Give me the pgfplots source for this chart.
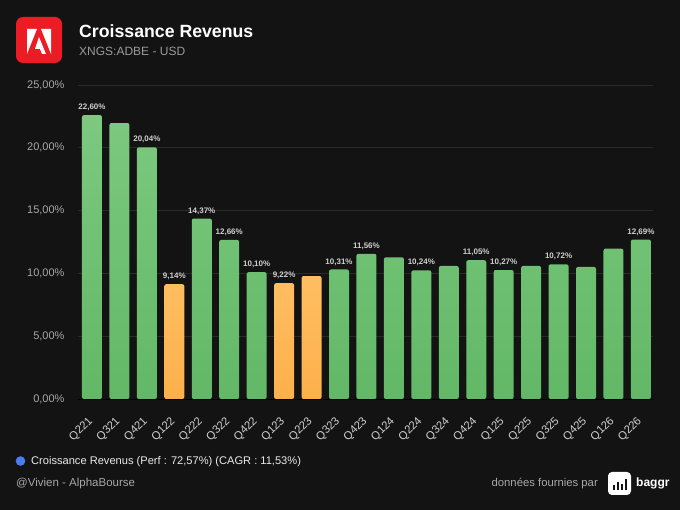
\documentclass[border=0pt]{standalone}
\usepackage{pgfplots}
\pgfplotsset{compat=1.18}
\usepackage{pgfplotstable}
\usepackage{fontspec}
\setmainfont{Liberation Sans}
\definecolor{bg}{HTML}{131313}
\definecolor{gridc}{HTML}{2A2A2A}
\definecolor{greentop}{HTML}{7CC97F}
\definecolor{greenbot}{HTML}{62B866}
\definecolor{orangetop}{HTML}{FFBE62}
\definecolor{orangebot}{HTML}{FDB04A}
\definecolor{ticktext}{HTML}{A8A8A8}
\definecolor{xtext}{HTML}{CFCFCF}
\definecolor{subt}{HTML}{9A9A9A}
\definecolor{adobered}{HTML}{EB1C24}
\definecolor{bluedot}{HTML}{4A7CF0}

\pgfplotstableread{
x y
0 22.60
1 21.97
2 20.04
4 14.37
5 12.66
6 10.10
9 10.31
10 11.56
11 11.28
12 10.24
13 10.59
14 11.05
15 10.27
16 10.59
17 10.72
18 10.51
19 11.97
20 12.69
}\greendata
\pgfplotstableread{
x y
3 9.14
7 9.22
8 9.79
}\orangedata
\pgfplotstableread{
x y lab
0 22.60 {22,60\%}
2 20.04 {20,04\%}
3 9.14 {9,14\%}
4 14.37 {14,37\%}
5 12.66 {12,66\%}
6 10.10 {10,10\%}
7 9.22 {9,22\%}
9 10.31 {10,31\%}
10 11.56 {11,56\%}
12 10.24 {10,24\%}
14 11.05 {11,05\%}
15 10.27 {10,27\%}
17 10.72 {10,72\%}
20 12.69 {12,69\%}
}\labdata

\begin{document}
\begin{tikzpicture}[x=1pt,y=1pt]
\fill[bg] (0,0) rectangle (680,510);
% logo
\fill[adobered, rounded corners=7pt] (16,447) rectangle (62,493);
\fill[white] (27,481) -- (37,481) -- (27,456) -- cycle;
\fill[white] (41,481) -- (51,481) -- (51,456) -- cycle;
\fill[white] (39,473) -- (46,456) -- (42,456) -- (40,461) -- (35,461) -- cycle;
% titles
\node[anchor=base west, text=white, font=\bfseries\fontsize{17.7}{20}\selectfont, inner sep=0] at (79,472) {Croissance Revenus};
\node[anchor=base west, text=subt, font=\fontsize{12}{14}\selectfont, inner sep=0] at (79,454) {XNGS:ADBE - USD};

\begin{axis}[
  at={(78pt,111pt)}, anchor=south west,
  scale only axis, width=575pt, height=314pt,
  xmin=-0.51, xmax=20.44, ymin=0, ymax=25,
  axis line style={draw=none},
  major tick style={draw=none},
  ymajorgrids, grid style={gridc, line width=0.8pt},
  ytick={0,5,10,15,20,25},
  yticklabels={{0,00\%},{5,00\%},{10,00\%},{15,00\%},{20,00\%},{25,00\%}},
  yticklabel style={text=ticktext, font=\fontsize{11}{12}\selectfont, xshift=-10pt},
  xtick={0,...,20},
  xticklabels={Q221,Q321,Q421,Q122,Q222,Q322,Q422,Q123,Q223,Q323,Q423,Q124,Q224,Q324,Q424,Q125,Q225,Q325,Q425,Q126,Q226},
  xticklabel style={xshift=-4.6pt, yshift=-12pt, rotate=45, anchor=north east, text=xtext, font=\fontsize{11.3}{12}\selectfont},
  clip=false,
]
\draw[color=gridc!150, line width=0.8pt] (axis cs:-0.51,0) -- (axis cs:20.44,0);
\addplot[ybar, bar width=20pt, bar shift=0pt, draw=none, top color=greentop, bottom color=greenbot, rounded corners=2pt] table[x=x,y=y] {\greendata};
\addplot[ybar, bar width=20pt, bar shift=0pt, draw=none, top color=orangetop, bottom color=orangebot, rounded corners=2pt] table[x=x,y=y] {\orangedata};
\addplot[draw=none, mark=none, nodes near coords, point meta=explicit symbolic,
  nodes near coords style={anchor=south, text=xtext, font=\bfseries\fontsize{8}{9}\selectfont, yshift=3pt, inner sep=1pt}]
  table[x=x,y=y,meta=lab] {\labdata};
\end{axis}

% legend
\fill[bluedot] (20.5,49) circle (4.8);
\node[anchor=base west, text=white!92!black, font=\fontsize{11.1}{13}\selectfont, inner sep=0] at (31,45) {Croissance Revenus (Perf : 72,57\%) (CAGR : 11,53\%)};
\node[anchor=base west, text=ticktext, font=\fontsize{11.5}{13}\selectfont, inner sep=0] at (16,23) {@Vivien - AlphaBourse};
\node[anchor=base east, text=ticktext, font=\fontsize{11.3}{13}\selectfont, inner sep=0] at (598,23) {données fournies par};
\fill[white, rounded corners=4pt] (608,15) rectangle (631,38);
\fill[bg] (613,20) rectangle (615,25);
\fill[bg] (617,20) rectangle (619,28);
\fill[bg] (621,20) rectangle (623,26);
\fill[bg] (625,20) rectangle (627,31);
\node[anchor=base west, text=white, font=\bfseries\fontsize{12}{13}\selectfont, inner sep=0] at (636,23) {baggr};
\end{tikzpicture}
\end{document}
